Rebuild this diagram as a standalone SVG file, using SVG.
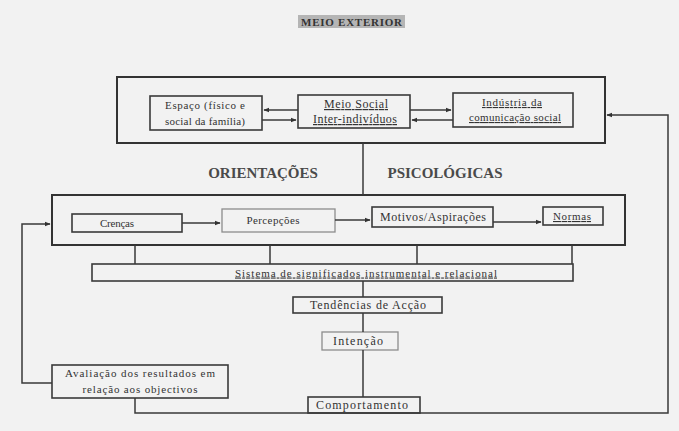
<svg xmlns="http://www.w3.org/2000/svg" width="679" height="431" viewBox="0 0 679 431">
<defs>
<marker id="ah" viewBox="0 0 10 10" refX="9" refY="5" markerWidth="6" markerHeight="6" orient="auto-start-reverse" markerUnits="userSpaceOnUse"><path d="M0,1 L10,5 L0,9 z" fill="#333"/></marker>
</defs>
<style>
text{font-family:"Liberation Serif","Times New Roman",serif;fill:#333}
.t{font-size:11px;text-anchor:middle}
.m{font-size:12px}
.u{text-decoration:underline}
.box{fill:none;stroke:#3a3a3a;stroke-width:1.6}
.lbox{fill:none;stroke:#8c8c8c;stroke-width:1.3}
.big{fill:none;stroke:#333;stroke-width:2}
.c{fill:none;stroke:#3a3a3a;stroke-width:1.5}
.h{font-size:15px;font-weight:bold;text-anchor:middle;fill:#4a4a4a}
</style>
<rect width="679" height="431" fill="#f2f2f2"/>

<g id="title">
<rect x="298" y="15" width="107" height="13" fill="#b5b5b5"/>
<text x="351.5" y="25.5" font-size="11" font-weight="bold" text-anchor="middle" textLength="101" lengthAdjust="spacing">MEIO EXTERIOR</text>
</g>

<g id="meio-exterior">
<rect class="big" x="117" y="77" width="488" height="66"/>
</g>
<g id="espaco">
<rect class="box" x="150" y="96" width="112" height="34"/>
<text class="t" x="205" y="109" textLength="80" lengthAdjust="spacing">Espaço (físico e</text>
<text class="t" x="205" y="125" textLength="80" lengthAdjust="spacing">social da família)</text>
</g>
<g id="meio-social">
<rect class="box" x="298" y="95" width="112" height="33"/>
<text class="t m u" x="356" y="108" textLength="64" lengthAdjust="spacing">Meio Social</text>
<text class="t m u" x="355" y="123" textLength="84" lengthAdjust="spacing">Inter-indivíduos</text>
</g>
<g id="industria">
<rect class="box" x="453" y="93" width="120" height="34"/>
<text class="t u" x="512" y="106" textLength="60" lengthAdjust="spacing">Indústria da</text>
<text class="t u" x="515" y="121" textLength="92" lengthAdjust="spacing">comunicação social</text>
</g>

<g id="labels">
<text class="h" x="263" y="178">ORIENTAÇÕES</text>
<text class="h" x="445" y="178">PSICOLÓGICAS</text>
</g>

<g id="orientacoes">
<rect class="big" x="52" y="195" width="573" height="50"/>
</g>
<g id="crencas">
<rect class="box" x="72" y="214" width="110" height="18"/>
<text class="t" x="117" y="226.5" textLength="34" lengthAdjust="spacing">Crenças</text>
</g>
<g id="percepcoes">
<rect class="lbox" x="222" y="209" width="113" height="23"/>
<text class="t" x="273" y="224" textLength="53" lengthAdjust="spacing">Percepções</text>
</g>
<g id="motivos">
<rect class="box" x="372" y="207" width="121" height="20"/>
<text class="t m" x="433" y="221" textLength="106" lengthAdjust="spacing">Motivos/Aspirações</text>
</g>
<g id="normas">
<rect class="box" x="543" y="207" width="60" height="18"/>
<text class="t u" x="572" y="220" textLength="38" lengthAdjust="spacing">Normas</text>
</g>

<g id="sistema">
<rect class="box" x="92" y="264" width="481" height="17"/>
<text class="t u" x="366" y="276.5" font-size="11.5" textLength="262" lengthAdjust="spacing">Sistema de significados instrumental e relacional</text>
</g>
<g id="tendencias">
<rect class="box" x="293" y="297" width="149" height="16"/>
<text class="t m" x="368" y="309" textLength="116" lengthAdjust="spacing">Tendências de Acção</text>
</g>
<g id="intencao">
<rect class="lbox" x="322" y="332" width="76" height="18"/>
<text class="t m" x="358" y="345" textLength="50" lengthAdjust="spacing">Intenção</text>
</g>
<g id="comportamento">
<rect class="box" x="308" y="397" width="112" height="16"/>
<text class="t m" x="362" y="409" textLength="92" lengthAdjust="spacing">Comportamento</text>
</g>
<g id="avaliacao">
<rect class="box" x="52" y="365" width="176" height="33"/>
<text class="t" x="140" y="377" textLength="150" lengthAdjust="spacing">Avaliação dos resultados em</text>
<text class="t" x="140" y="393" textLength="115" lengthAdjust="spacing">relação aos objectivos</text>
</g>

<g id="connectors">
<path class="c" d="M298,110 H264" marker-end="url(#ah)"/>
<path class="c" d="M262,120 H296" marker-end="url(#ah)"/>
<path class="c" d="M410,110 H451" marker-end="url(#ah)"/>
<path class="c" d="M453,120 H412" stroke-width="2.2" marker-end="url(#ah)"/>
<path class="c" d="M363,143 V195"/>
<path class="c" d="M182,223 H220" marker-end="url(#ah)"/>
<path class="c" d="M335,220 H370" marker-end="url(#ah)"/>
<path class="c" d="M493,222 H541" marker-end="url(#ah)"/>
<path class="c" d="M135,245 V264 M270,245 V264 M417,245 V264 M572,245 V264"/>
<path class="c" d="M363,281 V297"/>
<path class="c" d="M363,313 V332"/>
<path class="c" d="M363,350 V397"/>
<path class="c" d="M52,383 H22 V224 H50" marker-end="url(#ah)"/>
<path class="c" d="M135,398 V413 H668 V115 H607" stroke-width="1.8" marker-end="url(#ah)"/>
</g>
</svg>
